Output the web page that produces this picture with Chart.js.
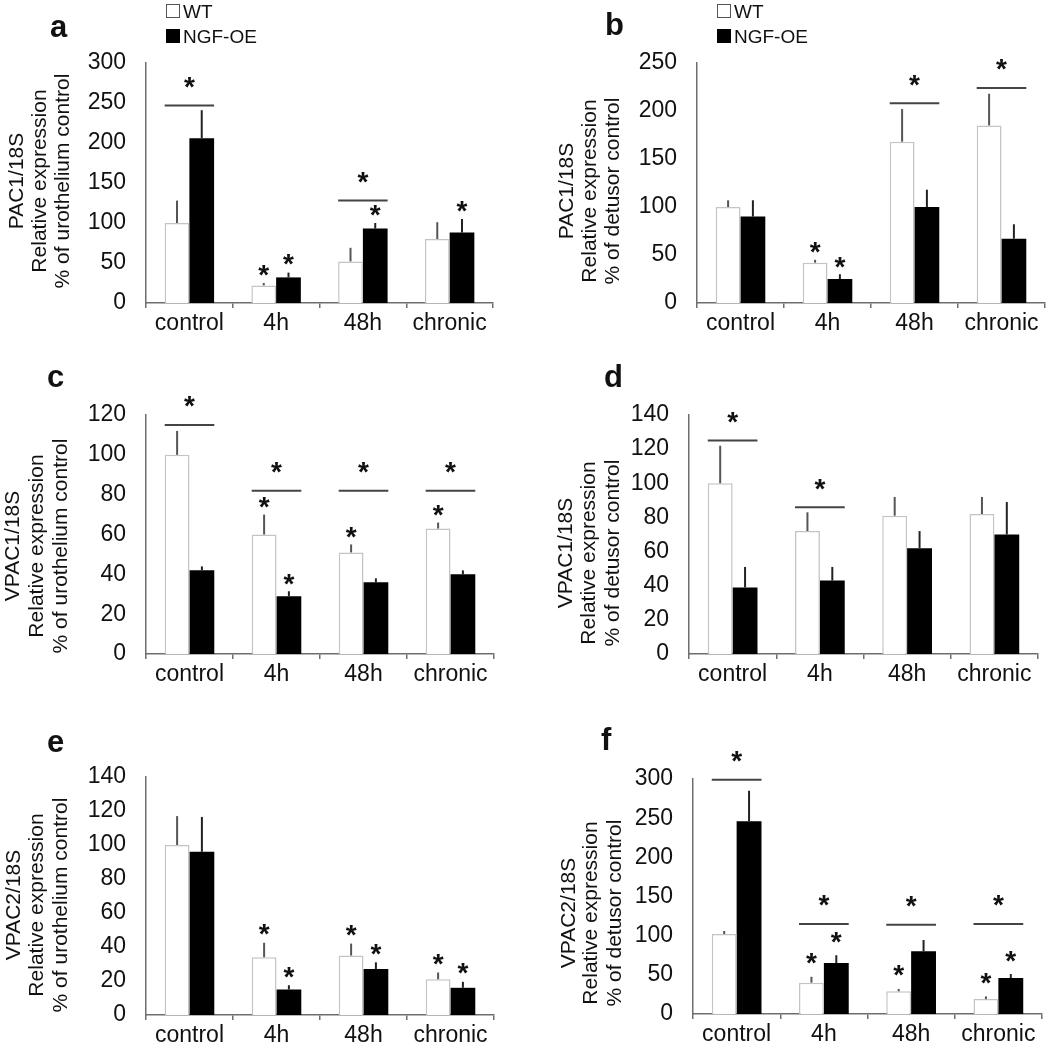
<!DOCTYPE html>
<html>
<head>
<meta charset="utf-8">
<script src="https://cdn.jsdelivr.net/npm/chart.js@4.4.1/dist/chart.umd.min.js"></script>
<style>
  body { margin: 0; background: #fff; width: 1050px; height: 1047px; position: relative; overflow: hidden; }
  canvas.panel { position: absolute; }
</style>
</head>
<body>
<canvas id="pa" class="panel"></canvas>
<canvas id="pb" class="panel"></canvas>
<canvas id="pc" class="panel"></canvas>
<canvas id="pd" class="panel"></canvas>
<canvas id="pe" class="panel"></canvas>
<canvas id="pf" class="panel"></canvas>
<script>
const categories = ['control', '4h', '48h', 'chronic'];
const seriesNames = ['WT', 'NGF-OE'];

// a: PAC1/18S, urothelium
const aWT = [100, 22, 52, 80];
const aWTErr = [28, 3, 17, 21];
const aNGF = [206, 32, 93, 88];
const aNGFErr = [35, 6, 7, 17];
const aSig = [247, null, 128, null];
const aStarWT = [0, 1, 0, 0];
const aStarNGF = [0, 1, 1, 1];
const aTicks = [0, 300, 50];

// b: PAC1/18S, detrusor
const bWT = [100, 42, 168, 185];
const bWTErr = [7, 3, 34, 33];
const bNGF = [90, 25, 100, 67];
const bNGFErr = [17, 5, 18, 15];
const bSig = [null, null, 208, 224];
const bStarWT = [0, 1, 0, 0];
const bStarNGF = [0, 1, 0, 0];
const bTicks = [0, 250, 50];

// c: VPAC1/18S, urothelium
const cWT = [100, 60, 51, 63];
const cWTErr = [12, 10, 4, 3];
const cNGF = [42, 29, 36, 40];
const cNGFErr = [2, 2.5, 2, 2];
const cSig = [115, 82, 82, 82];
const cStarWT = [0, 1, 1, 1];
const cStarNGF = [0, 1, 0, 0];
const cTicks = [0, 120, 20];

// d: VPAC1/18S, detrusor
const dWT = [100, 72, 81, 82];
const dWTErr = [22, 11, 11, 10];
const dNGF = [39, 43, 62, 70];
const dNGFErr = [12, 8, 10, 19];
const dSig = [125, 86, null, null];
const dStarWT = [0, 0, 0, 0];
const dStarNGF = [0, 0, 0, 0];
const dTicks = [0, 140, 20];

// e: VPAC2/18S, urothelium
const eWT = [100, 34, 35, 21];
const eWTErr = [17, 8.5, 7, 4];
const eNGF = [96, 15, 27, 16];
const eNGFErr = [20.5, 2.5, 4, 3.5];
const eSig = [null, null, null, null];
const eStarWT = [0, 1, 1, 1];
const eStarNGF = [0, 1, 1, 1];
const eTicks = [0, 140, 20];

// f: VPAC2/18S, detrusor
const fWT = [102, 40, 29, 19];
const fWTErr = [4, 7.5, 3, 3.5];
const fNGF = [246, 65, 80, 46];
const fNGFErr = [39, 10, 14.5, 5];
const fSig = [299, 115, 114, 115];
const fStarWT = [0, 1, 1, 1];
const fStarNGF = [0, 1, 0, 1];
const fTicks = [0, 300, 50];

const FONT = '"Liberation Sans", Arial, Helvetica, sans-serif';
const INK = '#111';
const AXIS = '#6e6e6e';

// draws letters, legends, y titles, error bars, significance bars and stars
const decorPlugin = {
    id: 'decor',
    afterDatasetsDraw(chart, args, opts) {
        const ctx = chart.ctx;
        const y = chart.scales.y;
        const metaWT = chart.getDatasetMeta(0);
        const metaNGF = chart.getDatasetMeta(1);
        ctx.save();

        // error bars
        chart.data.datasets.forEach((ds, i) => {
            const meta = chart.getDatasetMeta(i);
            meta.data.forEach((bar, j) => {
                const top = y.getPixelForValue(ds.data[j]);
                const end = y.getPixelForValue(ds.data[j] + ds.errors[j]);
                ctx.strokeStyle = i === 0 ? '#555' : '#222';
                ctx.lineWidth = 2;
                ctx.beginPath();
                ctx.moveTo(bar.x, top);
                ctx.lineTo(bar.x, end);
                ctx.stroke();
            });
        });

        const star = (cx, cy) => {
            ctx.font = 'bold 28px ' + FONT;
            ctx.textAlign = 'center';
            ctx.textBaseline = 'alphabetic';
            ctx.fillStyle = INK;
            const m = ctx.measureText('*');
            ctx.fillText('*', cx, cy + (m.actualBoundingBoxAscent - m.actualBoundingBoxDescent) / 2);
        };

        // significance lines between WT and NGF-OE
        opts.sig.forEach((v, j) => {
            if (v === null) return;
            const b0 = metaWT.data[j], b1 = metaNGF.data[j];
            const x0 = b0.x - b0.width / 2, x1 = b1.x + b1.width / 2;
            const py = y.getPixelForValue(v);
            ctx.strokeStyle = '#444';
            ctx.lineWidth = 2;
            ctx.beginPath();
            ctx.moveTo(x0, py);
            ctx.lineTo(x1, py);
            ctx.stroke();
            star((x0 + x1) / 2, py - 23);
        });

        // stars over single bars
        [[metaWT, opts.starWT, 0], [metaNGF, opts.starNGF, 1]].forEach(([meta, flags, i]) => {
            const ds = chart.data.datasets[i];
            flags.forEach((f, j) => {
                if (!f) return;
                const bar = meta.data[j];
                star(bar.x, y.getPixelForValue(ds.data[j] + ds.errors[j]) - opts.starGap);
            });
        });

        const ox = opts.origin[0], oy = opts.origin[1];

        // panel letter
        ctx.font = 'bold 31px ' + FONT;
        ctx.textAlign = 'left';
        ctx.textBaseline = 'alphabetic';
        ctx.fillStyle = INK;
        ctx.fillText(opts.letter, opts.letterPos[0] - ox, opts.letterPos[1] - oy);

        // y title, three rotated lines
        ctx.font = '21px ' + FONT;
        ctx.textAlign = 'center';
        opts.title.forEach((line, k) => {
            ctx.save();
            ctx.translate(opts.titleBase[k] - ox, opts.titleMid - oy);
            ctx.rotate(-Math.PI / 2);
            ctx.fillText(line, 0, 0);
            ctx.restore();
        });

        // legend
        if (opts.legendPos) {
            const lx = opts.legendPos[0] - ox, ly = opts.legendPos[1] - oy;
            ctx.font = '19px ' + FONT;
            ctx.textAlign = 'left';
            seriesNames.forEach((name, k) => {
                const by = ly + k * 25;
                ctx.fillStyle = k === 0 ? '#fff' : '#000';
                ctx.fillRect(lx, by, 14, 14);
                ctx.strokeStyle = k === 0 ? '#555' : '#000';
                ctx.lineWidth = 1;
                ctx.strokeRect(lx + 0.5, by + 0.5, 13, 13);
                ctx.fillStyle = INK;
                ctx.fillText(name, lx + 17, by + 14);
            });
        }
        ctx.restore();
    }
};

function makePanel(id, box, area, wt, wtErr, ngf, ngfErr, ticks, decor) {
    const cv = document.getElementById(id);
    cv.width = box[2];
    cv.height = box[3];
    cv.style.left = box[0] + 'px';
    cv.style.top = box[1] + 'px';
    decor.origin = [box[0], box[1]];
    return new Chart(cv, {
        type: 'bar',
        data: {
            labels: categories,
            datasets: [
                { label: seriesNames[0], data: wt, errors: wtErr, backgroundColor: '#fff', borderColor: '#c4c4c4', borderWidth: 1.5, borderSkipped: 'bottom' },
                { label: seriesNames[1], data: ngf, errors: ngfErr, backgroundColor: '#000', borderColor: '#000', borderWidth: 0 }
            ]
        },
        options: {
            responsive: false,
            animation: false,
            devicePixelRatio: 1,
            datasets: { bar: { categoryPercentage: 0.57, barPercentage: 1.0 } },
            layout: { padding: { left: 0, top: area[1] - box[1], right: box[0] + box[2] - area[2], bottom: 0 } },
            plugins: { legend: { display: false }, tooltip: { enabled: false }, decor: decor },
            scales: {
                x: {
                    grid: { display: true, drawOnChartArea: false, drawTicks: true, tickLength: 5, color: AXIS, lineWidth: 1.5 },
                    border: { display: true, color: AXIS, width: 1.5 },
                    ticks: { color: INK, font: { family: FONT, size: 23 }, padding: 2, maxRotation: 0 },
                    afterFit: s => { s.height = box[1] + box[3] - area[3]; }
                },
                y: {
                    min: ticks[0], max: ticks[1],
                    grid: { display: false },
                    border: { display: true, color: AXIS, width: 1.5 },
                    ticks: { stepSize: ticks[2], color: INK, font: { family: FONT, size: 23 }, padding: 12 },
                    afterFit: s => { s.width = area[0] - box[0]; }
                }
            }
        },
        plugins: [decorPlugin]
    });
}

makePanel('pa', [0, 0, 525, 345], [146, 63, 493, 303], aWT, aWTErr, aNGF, aNGFErr, aTicks, {
    letter: 'a', letterPos: [50, 37], legendPos: [166, 4], sig: aSig, starWT: aStarWT, starNGF: aStarNGF, starGap: 13,
    title: ['PAC1/18S', 'Relative expression', '% of urothelium control'], titleBase: [23, 46, 69], titleMid: 181
});
makePanel('pb', [525, 0, 525, 345], [697, 63, 1045, 303], bWT, bWTErr, bNGF, bNGFErr, bTicks, {
    letter: 'b', letterPos: [605, 35], legendPos: [717, 4], sig: bSig, starWT: bStarWT, starNGF: bStarNGF, starGap: 12,
    title: ['PAC1/18S', 'Relative expression', '% of detusor control'], titleBase: [573, 596, 619], titleMid: 191
});
makePanel('pc', [0, 345, 525, 340], [146, 415, 494, 654], cWT, cWTErr, cNGF, cNGFErr, cTicks, {
    letter: 'c', letterPos: [47, 387], sig: cSig, starWT: cStarWT, starNGF: cStarNGF, starGap: 12,
    title: ['VPAC1/18S', 'Relative expression', '% of urothelium control'], titleBase: [19, 43, 67], titleMid: 546
});
makePanel('pd', [525, 345, 525, 340], [689, 415, 1038, 654], dWT, dWTErr, dNGF, dNGFErr, dTicks, {
    letter: 'd', letterPos: [604, 387], sig: dSig, starWT: dStarWT, starNGF: dStarNGF, starGap: 12,
    title: ['VPAC1/18S', 'Relative expression', '% of detusor control'], titleBase: [572, 595, 619], titleMid: 553
});
makePanel('pe', [0, 685, 525, 362], [146, 777, 494, 1015], eWT, eWTErr, eNGF, eNGFErr, eTicks, {
    letter: 'e', letterPos: [47, 752], sig: eSig, starWT: eStarWT, starNGF: eStarNGF, starGap: 13,
    title: ['VPAC2/18S', 'Relative expression', '% of urothelium control'], titleBase: [20, 43, 67], titleMid: 905
});
makePanel('pf', [525, 685, 525, 362], [693, 779, 1042, 1014], fWT, fWTErr, fNGF, fNGFErr, fTicks, {
    letter: 'f', letterPos: [601, 750], sig: fSig, starWT: fStarWT, starNGF: fStarNGF, starGap: 18,
    title: ['VPAC2/18S', 'Relative expression', '% of detusor control'], titleBase: [575, 597, 621], titleMid: 913
});
</script>
</body>
</html>
